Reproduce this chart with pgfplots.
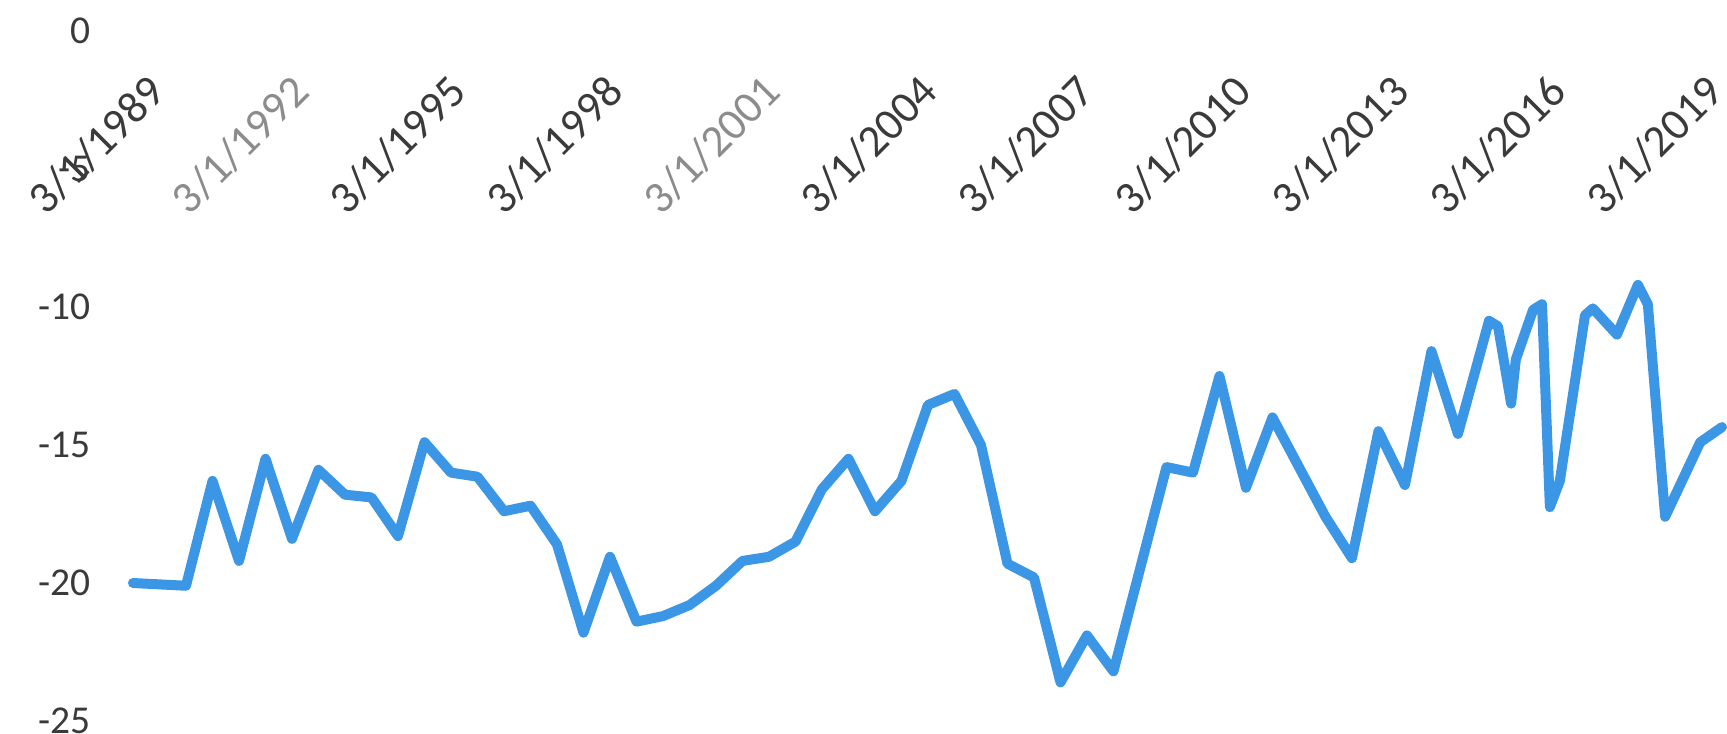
\documentclass[border=0pt]{standalone}
\usepackage{fontspec}
\setmainfont{Carlito}
\usepackage{pgfplots}
\pgfplotsset{compat=1.18}
\definecolor{lineblue}{RGB}{60,150,230}
\definecolor{txt}{RGB}{58,58,58}
\definecolor{txtl}{RGB}{140,140,140}
\pgfplotstableread{
x y
1989.000 -20.0
1989.506 -20.05
1990.012 -20.1
1990.518 -16.3
1991.024 -19.2
1991.530 -15.5
1992.035 -18.4
1992.541 -15.9
1993.047 -16.8
1993.553 -16.9
1994.059 -18.3
1994.565 -14.9
1995.071 -16.0
1995.577 -16.15
1996.083 -17.4
1996.589 -17.2
1997.094 -18.6
1997.600 -21.8
1998.106 -19.05
1998.612 -21.4
1999.118 -21.2
1999.624 -20.8
2000.130 -20.1
2000.636 -19.2
2001.142 -19.05
2001.648 -18.5
2002.153 -16.6
2002.659 -15.5
2003.165 -17.4
2003.671 -16.3
2004.177 -13.55
2004.683 -13.15
2005.189 -15.0
2005.695 -19.3
2006.201 -19.8
2006.707 -23.6
2007.212 -21.9
2007.718 -23.2
2008.224 -19.5
2008.730 -15.8
2009.236 -16.0
2009.742 -12.5
2010.248 -16.55
2010.754 -14.0
2011.260 -15.8
2011.766 -17.6
2012.271 -19.1
2012.777 -14.5
2013.283 -16.45
2013.789 -11.6
2014.295 -14.6
2014.888 -10.5
2015.060 -10.7
2015.310 -13.5
2015.400 -11.9
2015.730 -10.1
2015.900 -9.9
2016.050 -17.25
2016.240 -16.3
2016.720 -10.3
2016.870 -10.05
2017.330 -11.0
2017.730 -9.2
2017.920 -9.9
2018.250 -17.6
2018.920 -14.9
2019.336 -14.35
}\datatable
\begin{document}
\begin{tikzpicture}
\begin{axis}[
  scale only axis, width=794.5bp, height=345bp,
  xmin=1989, xmax=2019.336, ymin=-25, ymax=0,
  axis x line*=top, axis y line*=left,
  axis line style={draw=none},
  major tick length=0pt, tick style={draw=none},
  xtick={1992,1995,1998,2001,2004,2007,2010,2013,2016,2019},
  xticklabels={\textcolor{txtl}{3/1/1992},3/1/1995,3/1/1998,\textcolor{txtl}{3/1/2001},3/1/2004,3/1/2007,3/1/2010,3/1/2013,3/1/2016,3/1/2019},
  extra x ticks={1989},
  extra x tick labels={3/1/1989},
  extra x tick style={xticklabel style={rotate=-45, xshift=7bp, rotate=45}},
  ytick={-25,-20,-15,-10,-5,0},
  yticklabels={-25,-20,-15,-10,-5,0},
  yticklabel style={font=\fontsize{19.75bp}{24bp}\selectfont, text=txt, anchor=east, inner sep=0pt, xshift=-21bp},
  xticklabel style={font=\fontsize{22.5bp}{26bp}\selectfont, text=txt, yshift=-20.5bp, xshift=-0.5bp, rotate=45, anchor=north east, inner sep=0pt},
  /pgf/number format/assume math mode=true,
  clip=false,
]
\addplot[lineblue, line width=5bp, line join=round, line cap=round] table[x=x,y=y] {\datatable};
\coordinate (bl) at (rel axis cs:0,0);
\coordinate (tr) at (rel axis cs:1,1);
\end{axis}
\pgfresetboundingbox
\path[use as bounding box] ([shift={(-66.5bp,-6.5bp)}]bl) rectangle ([shift={(2.5bp,15.5bp)}]tr);
\end{tikzpicture}
\end{document}
